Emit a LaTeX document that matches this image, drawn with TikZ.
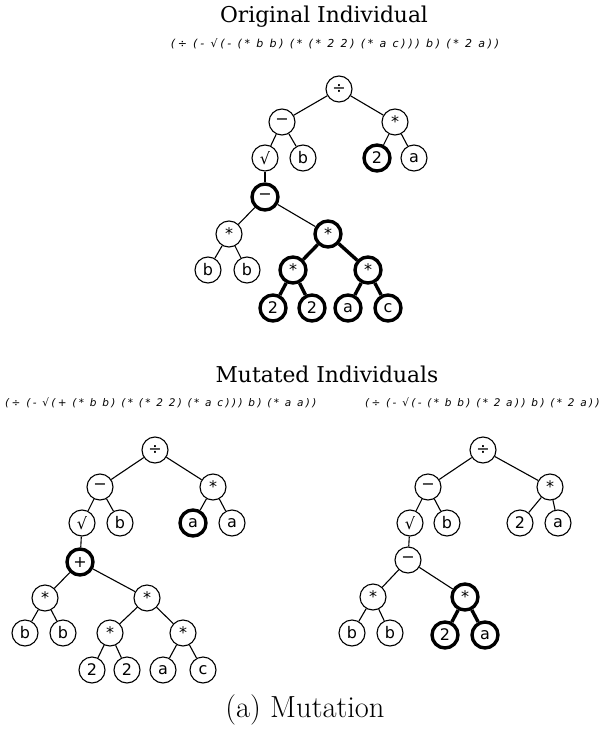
\documentclass[tikz,border=0pt]{standalone}
\usepackage{fontspec}
\newfontfamily\titlefont{DejaVu Serif}
\newfontfamily\labelfont{DejaVu Sans}
\newfontfamily\exprfont[LetterSpace=25]{DejaVu Sans Oblique}
\newfontfamily\exprfontb[LetterSpace=23]{DejaVu Sans Oblique}
\begin{document}
\begin{tikzpicture}[x=1pt,y=-1pt,
  gpnode/.style={circle,draw,line width=1.1pt,minimum size=26pt,inner sep=0pt,
    font=\labelfont\fontsize{16}{16}\selectfont},
  hot/.style={line width=3.4pt},
  edge/.style={line width=1.1pt},
  hotedge/.style={line width=3.4pt},
  heading/.style={font=\titlefont\fontsize{21.8}{24}\selectfont},
  expr/.style={font=\exprfont\fontsize{11}{13}\selectfont},
  exprb/.style={inner sep=0pt,font=\exprfontb\fontsize{10.5}{13}\selectfont},
  caption/.style={font=\fontsize{30.5}{34}\selectfont}]
\useasboundingbox (0,0) rectangle (604,733);

% ---------- original individual ----------
\node[heading] (ttitle) at (324,17) {Original Individual};
\node[expr] (texpr) at (335,44) {(÷ (- √(- (* b b) (* (* 2 2) (* a c))) b) (* 2 a))};

\node[gpnode] (t0) at (339,89) {÷};
\node[gpnode] (t1) at (282,122) {−};
\node[gpnode] (t2) at (395,122) {*};
\node[gpnode] (t3) at (265,158) {√};
\node[gpnode] (t4) at (303,158) {b};
\node[gpnode,hot] (t5) at (377,158) {2};
\node[gpnode] (t6) at (414,158) {a};
\node[gpnode,hot] (t7) at (265,197) {−};
\node[gpnode] (t8) at (229,234) {*};
\node[gpnode,hot] (t9) at (328,234) {*};
\node[gpnode] (t10) at (208,270) {b};
\node[gpnode] (t11) at (247,270) {b};
\node[gpnode,hot] (t12) at (293,270) {*};
\node[gpnode,hot] (t13) at (368,270) {*};
\node[gpnode,hot] (t14) at (273,308) {2};
\node[gpnode,hot] (t15) at (312,308) {2};
\node[gpnode,hot] (t16) at (348,308) {a};
\node[gpnode,hot] (t17) at (388,308) {c};

\draw[edge] (t0) -- (t1);
\draw[edge] (t0) -- (t2);
\draw[edge] (t1) -- (t3);
\draw[edge] (t1) -- (t4);
\draw[edge] (t2) -- (t5);
\draw[edge] (t2) -- (t6);
\draw[edge] (t3) -- (t7);
\draw[edge] (t7) -- (t8);
\draw[edge] (t7) -- (t9);
\draw[edge] (t8) -- (t10);
\draw[edge] (t8) -- (t11);
\draw[hotedge] (t9) -- (t12);
\draw[hotedge] (t9) -- (t13);
\draw[hotedge] (t12) -- (t14);
\draw[hotedge] (t12) -- (t15);
\draw[hotedge] (t13) -- (t16);
\draw[hotedge] (t13) -- (t17);

% ---------- mutated individuals ----------
\node[heading] (mtitle) at (327,374) {Mutated Individuals};
\node[exprb,anchor=west] (lexpr) at (5,403) {(÷ (- √(+ (* b b) (* (* 2 2) (* a c))) b) (* a a))};
\node[exprb,anchor=east] (rexpr) at (600,403) {(÷ (- √(- (* b b) (* 2 a)) b) (* 2 a))};

% left mutant
\node[gpnode] (l0) at (155,450) {÷};
\node[gpnode] (l1) at (100,487) {−};
\node[gpnode] (l2) at (213,487) {*};
\node[gpnode] (l3) at (82,523) {√};
\node[gpnode] (l4) at (120,523) {b};
\node[gpnode,hot] (l5) at (193,523) {a};
\node[gpnode] (l6) at (232,523) {a};
\node[gpnode,hot] (l7) at (80,562) {+};
\node[gpnode] (l8) at (45,598) {*};
\node[gpnode] (l9) at (147,598) {*};
\node[gpnode] (l10) at (25,633) {b};
\node[gpnode] (l11) at (63,633) {b};
\node[gpnode] (l12) at (110,633) {*};
\node[gpnode] (l13) at (183,633) {*};
\node[gpnode] (l14) at (92,670) {2};
\node[gpnode] (l15) at (127,670) {2};
\node[gpnode] (l16) at (163,670) {a};
\node[gpnode] (l17) at (203,670) {c};

\draw[edge] (l0) -- (l1);
\draw[edge] (l0) -- (l2);
\draw[edge] (l1) -- (l3);
\draw[edge] (l1) -- (l4);
\draw[edge] (l2) -- (l5);
\draw[edge] (l2) -- (l6);
\draw[edge] (l3) -- (l7);
\draw[edge] (l7) -- (l8);
\draw[edge] (l7) -- (l9);
\draw[edge] (l8) -- (l10);
\draw[edge] (l8) -- (l11);
\draw[edge] (l9) -- (l12);
\draw[edge] (l9) -- (l13);
\draw[edge] (l12) -- (l14);
\draw[edge] (l12) -- (l15);
\draw[edge] (l13) -- (l16);
\draw[edge] (l13) -- (l17);

% right mutant
\node[gpnode] (r0) at (483,450) {÷};
\node[gpnode] (r1) at (428,487) {−};
\node[gpnode] (r2) at (550,487) {*};
\node[gpnode] (r3) at (410,523) {√};
\node[gpnode] (r4) at (447,523) {b};
\node[gpnode] (r5) at (520,523) {2};
\node[gpnode] (r6) at (558,523) {a};
\node[gpnode] (r7) at (408,560) {−};
\node[gpnode] (r8) at (373,597) {*};
\node[gpnode,hot] (r9) at (465,597) {*};
\node[gpnode] (r10) at (352,633) {b};
\node[gpnode] (r11) at (390,633) {b};
\node[gpnode,hot] (r12) at (445,635) {2};
\node[gpnode,hot] (r13) at (485,635) {a};

\draw[edge] (r0) -- (r1);
\draw[edge] (r0) -- (r2);
\draw[edge] (r1) -- (r3);
\draw[edge] (r1) -- (r4);
\draw[edge] (r2) -- (r5);
\draw[edge] (r2) -- (r6);
\draw[edge] (r3) -- (r7);
\draw[edge] (r7) -- (r8);
\draw[edge] (r7) -- (r9);
\draw[edge] (r8) -- (r10);
\draw[edge] (r8) -- (r11);
\draw[hotedge] (r9) -- (r12);
\draw[hotedge] (r9) -- (r13);

\node[caption] (cap) at (305,710) {(a) Mutation};
\end{tikzpicture}
\end{document}
